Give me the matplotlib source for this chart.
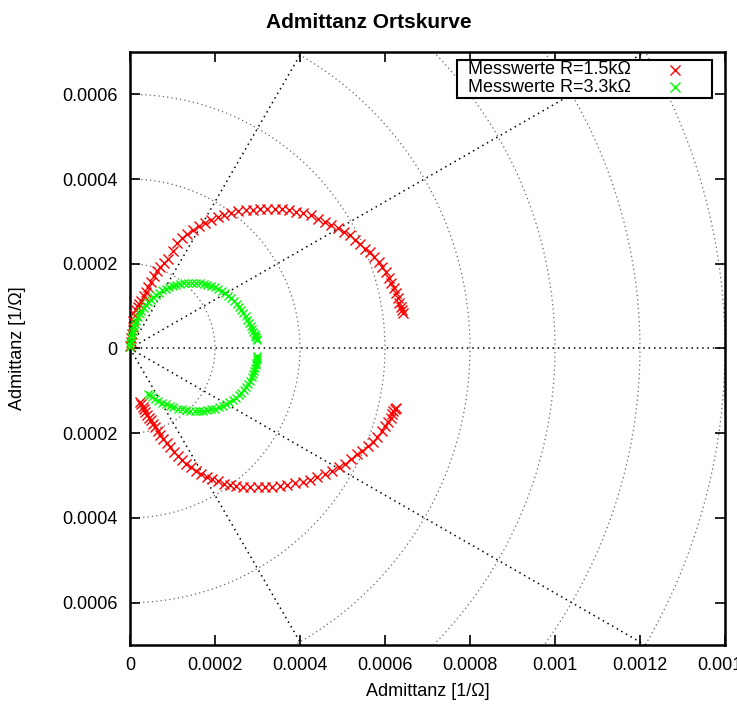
#!/usr/bin/env python3
"""
Admittance locus (Ortskurve) of two series resonant circuits,
drawn in gnuplot style with a polar grid.
"""

import numpy as np
import matplotlib
matplotlib.use("Agg")
import matplotlib.pyplot as plt
from matplotlib.patches import Rectangle

# Measured admittance, R = 1.5 kOhm (units of 1e-4 1/Ohm)
red_upper_x = [0.01, 0.02, 0.03, 0.04, 0.06, 0.08, 0.11, 0.14, 0.18, 0.22,
               0.27, 0.32, 0.37, 0.43, 0.49, 0.56, 0.63, 0.71, 0.80, 0.90,
               1.00, 1.11, 1.23, 1.35, 1.48, 1.62, 1.76, 1.91, 2.06, 2.22,
               2.38, 2.55, 2.72, 2.89, 3.06, 3.23, 3.40, 3.57, 3.74, 3.91,
               4.08, 4.25, 4.42, 4.58, 4.74, 4.89, 5.03, 5.17, 5.30, 5.42,
               5.54, 5.65, 5.75, 5.85, 5.94, 6.02, 6.09, 6.15, 6.21, 6.26,
               6.30, 6.34, 6.37, 6.40, 6.42]
red_upper_y = [0.05, 0.15, 0.25, 0.35, 0.50, 0.65, 0.80, 0.90, 0.98, 1.06,
               1.13, 1.23, 1.33, 1.45, 1.57, 1.71, 1.82, 1.93, 2.02, 2.12,
               2.30, 2.48, 2.60, 2.70, 2.80, 2.89, 2.96, 3.04, 3.10, 3.15,
               3.21, 3.24, 3.26, 3.27, 3.29, 3.30, 3.30, 3.29, 3.27, 3.23,
               3.19, 3.14, 3.06, 2.99, 2.92, 2.85, 2.76, 2.68, 2.57, 2.46,
               2.36, 2.28, 2.16, 2.04, 1.93, 1.80, 1.66, 1.55, 1.43, 1.30,
               1.19, 1.08, 0.99, 0.92, 0.83]
red_lower_x = [0.24, 0.27, 0.30, 0.33, 0.36, 0.40, 0.44, 0.49, 0.54, 0.59,
               0.65, 0.71, 0.78, 0.86, 0.94, 1.03, 1.12, 1.22, 1.32, 1.43,
               1.55, 1.67, 1.80, 1.93, 2.07, 2.21, 2.35, 2.50, 2.66, 2.83,
               3.00, 3.17, 3.34, 3.52, 3.70, 3.88, 4.06, 4.24, 4.41, 4.58,
               4.75, 4.91, 5.06, 5.20, 5.34, 5.47, 5.59, 5.71, 5.82, 5.92,
               6.01, 6.08, 6.13, 6.17, 6.20, 6.23, 6.25]
red_lower_y = [-1.26, -1.32, -1.38, -1.43, -1.49, -1.56, -1.63, -1.70, -1.78, -1.86,
               -1.95, -2.04, -2.13, -2.23, -2.33, -2.44, -2.54, -2.63, -2.72, -2.81,
               -2.89, -2.96, -3.03, -3.09, -3.14, -3.19, -3.22, -3.25, -3.27, -3.28,
               -3.28, -3.28, -3.27, -3.25, -3.22, -3.18, -3.15, -3.10, -3.03, -2.96,
               -2.90, -2.81, -2.72, -2.60, -2.50, -2.41, -2.31, -2.21, -2.08, -1.96,
               -1.84, -1.73, -1.63, -1.54, -1.48, -1.43, -1.40]

# Measured admittance, R = 3.3 kOhm (units of 1e-4 1/Ohm)
green_upper_x = [0.01, 0.01, 0.02, 0.03, 0.05, 0.07, 0.09, 0.12, 0.15, 0.19,
                 0.23, 0.27, 0.32, 0.37, 0.43, 0.49, 0.55, 0.62, 0.69, 0.76,
                 0.84, 0.92, 1.00, 1.09, 1.18, 1.27, 1.36, 1.46, 1.55, 1.64,
                 1.73, 1.82, 1.91, 2.00, 2.08, 2.16, 2.24, 2.31, 2.38, 2.45,
                 2.51, 2.57, 2.62, 2.67, 2.72, 2.76, 2.80, 2.84, 2.87, 2.90,
                 2.93, 2.95, 2.97, 2.98, 2.99]
green_upper_y = [0.03, 0.10, 0.18, 0.26, 0.34, 0.42, 0.50, 0.58, 0.66, 0.74,
                 0.82, 0.89, 0.96, 1.03, 1.09, 1.15, 1.21, 1.27, 1.32, 1.37,
                 1.41, 1.45, 1.48, 1.51, 1.53, 1.54, 1.55, 1.55, 1.55, 1.54,
                 1.53, 1.51, 1.48, 1.44, 1.40, 1.36, 1.31, 1.25, 1.19, 1.13,
                 1.06, 0.99, 0.92, 0.84, 0.76, 0.68, 0.60, 0.52, 0.45, 0.39,
                 0.34, 0.30, 0.26, 0.23, 0.20]
green_lower_x = [2.99, 2.99, 2.98, 2.97, 2.96, 2.94, 2.92, 2.89, 2.86, 2.82,
                 2.78, 2.73, 2.68, 2.62, 2.56, 2.49, 2.42, 2.34, 2.26, 2.18,
                 2.09, 2.00, 1.91, 1.82, 1.72, 1.62, 1.52, 1.42, 1.32, 1.22,
                 1.12, 1.02, 0.93, 0.84, 0.75, 0.67, 0.59, 0.52, 0.46, 0.42]
green_lower_y = [-0.17, -0.22, -0.28, -0.34, -0.40, -0.47, -0.54, -0.61, -0.68, -0.76,
                 -0.83, -0.90, -0.97, -1.04, -1.10, -1.16, -1.22, -1.27, -1.32, -1.36,
                 -1.39, -1.42, -1.44, -1.46, -1.47, -1.48, -1.48, -1.47, -1.46, -1.44,
                 -1.42, -1.39, -1.36, -1.32, -1.28, -1.24, -1.19, -1.14, -1.10, -1.07]

series_labels = ["Messwerte R=1.5k\u03a9", "Messwerte R=3.3k\u03a9"]
series_colors = ['#ff0000', '#00ff00']

x_ticks = [0, 0.0002, 0.0004, 0.0006, 0.0008, 0.001, 0.0012, 0.0014]
x_tick_labels = ["0", "0.0002", "0.0004", "0.0006", "0.0008", "0.001", "0.0012", "0.0014"]
y_ticks = [-0.0006, -0.0004, -0.0002, 0, 0.0002, 0.0004, 0.0006]
y_tick_labels = ["0.0006", "0.0004", "0.0002", "0", "0.0002", "0.0004", "0.0006"]

grid_radii = [0.0002, 0.0004, 0.0006, 0.0008, 0.001, 0.0012, 0.0014, 0.0016]
grid_angles = [-60, -30, 0, 30, 60]

plt.rcParams['font.family'] = ['Liberation Sans', 'DejaVu Sans']

fig = plt.figure(figsize=(7.37, 7.09), dpi=100)
ax = fig.add_axes([0.1764, 0.0903, 0.8073, 0.8364])

# Polar grid: circles (grey dotted)
theta = np.linspace(-np.pi / 2, np.pi / 2, 400)
for r in grid_radii:
    ax.plot(r * np.cos(theta), r * np.sin(theta), color='0.4',
            linestyle=(0, (1, 2.5)), linewidth=0.9, zorder=1)

# Polar grid: radial lines (black dotted)
for a in grid_angles:
    rad = np.deg2rad(a)
    ax.plot([0, 0.003 * np.cos(rad)], [0, 0.003 * np.sin(rad)],
            color='black', linestyle=(0, (1, 2.5)), linewidth=1.1, zorder=1)

scale = 1e-4
ax.plot(np.array(red_upper_x) * scale, np.array(red_upper_y) * scale,
        linestyle='none', marker='x', color=series_colors[0], markersize=7,
        markeredgewidth=1.0, clip_on=False, zorder=3)
ax.plot(np.array(red_lower_x) * scale, np.array(red_lower_y) * scale,
        linestyle='none', marker='x', color=series_colors[0], markersize=7,
        markeredgewidth=1.0, clip_on=False, zorder=3)
ax.plot(np.array(green_upper_x) * scale, np.array(green_upper_y) * scale,
        linestyle='none', marker='x', color=series_colors[1], markersize=6,
        markeredgewidth=1.0, clip_on=False, zorder=3)
ax.plot(np.array(green_lower_x) * scale, np.array(green_lower_y) * scale,
        linestyle='none', marker='x', color=series_colors[1], markersize=6,
        markeredgewidth=1.0, clip_on=False, zorder=3)

ax.set_xlim(0, 0.0014)
ax.set_ylim(-0.0007, 0.0007)
ax.set_xticks(x_ticks)
ax.set_xticklabels(x_tick_labels)
ax.set_yticks(y_ticks)
ax.set_yticklabels(y_tick_labels)
ax.tick_params(direction='in', length=7, width=1.2, top=True, right=True,
               labelsize=13, pad=9)

for spine in ax.spines.values():
    spine.set_linewidth(1.8)

ax.set_xlabel("Admittanz [1/\u03a9]", fontsize=13, labelpad=6)
ax.set_ylabel("Admittanz [1/\u03a9]", fontsize=13, labelpad=26)
fig.text(0.5, 0.968, "Admittanz Ortskurve", ha='center', va='center',
         fontsize=15, fontweight='bold')

# gnuplot-style key: text on the left, marker sample on the right
ax.add_patch(Rectangle((0.5496, 0.9224), 0.4284, 0.0641, transform=ax.transAxes,
                       facecolor='white', edgecolor='black', linewidth=1.5,
                       zorder=4))
for i, (lab, col) in enumerate(zip(series_labels, series_colors)):
    ty = 0.9696 - i * 0.0287
    ax.text(0.568, ty, lab, transform=ax.transAxes, fontsize=13,
            ha='left', va='center', zorder=5)
    ax.plot([0.916], [ty], transform=ax.transAxes, linestyle='none',
            marker='x', color=col, markersize=7, markeredgewidth=1.0,
            zorder=5, clip_on=False)

plt.savefig("out.png", dpi=100)
